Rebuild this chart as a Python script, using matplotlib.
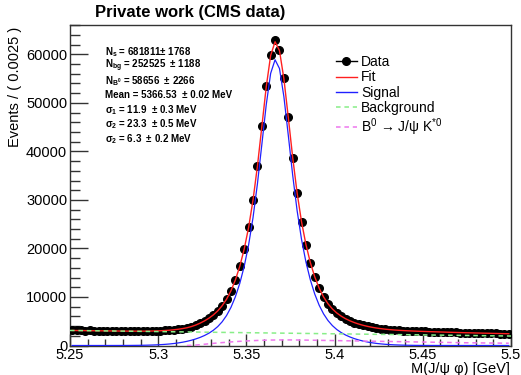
import numpy as np
import matplotlib
matplotlib.use('Agg')
import matplotlib.pyplot as plt
from matplotlib.lines import Line2D
from matplotlib.ticker import MultipleLocator, FuncFormatter

plt.rcParams['font.family'] = ['Liberation Sans', 'DejaVu Sans']
plt.rcParams['mathtext.fontset'] = 'custom'
plt.rcParams['mathtext.rm'] = 'Liberation Sans'
plt.rcParams['mathtext.it'] = 'Liberation Sans:italic'
plt.rcParams['mathtext.bf'] = 'Liberation Sans:bold'

# 100 bins of 0.0025 GeV from 5.25 to 5.5
x_lo, x_hi, nbins = 5.25, 5.5, 100
bin_w = (x_hi - x_lo) / nbins
mass = x_lo + bin_w * (np.arange(nbins) + 0.5)

data = [3180, 3120, 3150, 3090, 3110, 3060, 3080, 3040, 3050, 3010,
        3030, 2990, 3000, 2980, 2990, 2960, 2990, 2980, 3010, 3020,
        3070, 3100, 3180, 3250, 3370, 3500, 3680, 3900, 4230, 4620,
        5090, 5640, 6330, 7150, 8230, 9580, 11300, 13560, 16380, 19900,
        24400, 30050, 37050, 45200, 53400, 59900, 62900, 60950, 55050, 47000,
        38650, 31400, 25450, 20780, 17050, 14120, 11790, 10000, 8610, 7520,
        6700, 6050, 5500, 5090, 4710, 4400, 4160, 3930, 3760, 3590,
        3480, 3360, 3280, 3190, 3140, 3080, 3040, 2990, 2960, 2920,
        2890, 2860, 2830, 2800, 2770, 2750, 2720, 2690, 2660, 2640,
        2620, 2590, 2570, 2550, 2530, 2510, 2490, 2460, 2440, 2420]

fit = [3100, 3088, 3077, 3065, 3054, 3042, 3030, 3020, 3009, 2999,
       2989, 2979, 2972, 2965, 2961, 2959, 2961, 2970, 2984, 3007,
       3041, 3088, 3153, 3238, 3347, 3484, 3655, 3895, 4210, 4602,
       5071, 5627, 6304, 7135, 8191, 9541, 11281, 13507, 16324, 19866,
       24327, 29969, 36970, 45098, 53310, 59780, 62588, 60783, 54986, 46992,
       38728, 31433, 25496, 20802, 17088, 14140, 11815, 10005, 8607, 7533,
       6699, 6042, 5512, 5077, 4715, 4410, 4152, 3935, 3752, 3599,
       3471, 3364, 3275, 3199, 3137, 3082, 3034, 2993, 2955, 2921,
       2889, 2858, 2829, 2800, 2773, 2745, 2717, 2691, 2664, 2638,
       2616, 2594, 2573, 2551, 2530, 2508, 2486, 2465, 2443, 2422]

signal = [0, 0, 0, 0, 0, 0, 0, 1, 2, 3,
          5, 7, 11, 16, 23, 33, 47, 67, 93, 127,
          173, 232, 308, 405, 525, 674, 857, 1078, 1345, 1668,
          2059, 2537, 3135, 3898, 4885, 6177, 7859, 10036, 12805, 16308,
          20731, 26345, 33317, 41427, 49620, 56082, 58887, 57083, 51293, 43310,
          35063, 27790, 21874, 17207, 13519, 10598, 8300, 6516, 5145, 4097,
          3290, 2660, 2156, 1748, 1412, 1134, 903, 712, 556, 429,
          328, 248, 185, 136, 100, 72, 51, 36, 25, 17,
          12, 8, 5, 3, 2, 1, 0, 0, 0, 0,
          0, 0, 0, 0, 0, 0, 0, 0, 0, 0]

b0_refl = [0, 0, 0, 0, 0, 0, 0, 0, 0, 0,
           0, 0, 0, 0, 0, 0, 0, 0, 0, 0,
           0, 0, 0, 0, 0, 0, 0, 30, 90, 170,
           260, 350, 440, 520, 600, 670, 740, 800, 860, 910,
           960, 1000, 1040, 1070, 1100, 1120, 1135, 1145, 1150, 1150,
           1145, 1135, 1125, 1110, 1095, 1080, 1065, 1050, 1035, 1020,
           1005, 990, 975, 960, 945, 930, 915, 900, 885, 870,
           855, 840, 825, 810, 795, 780, 765, 750, 735, 720,
           705, 690, 675, 660, 645, 630, 615, 600, 585, 570,
           560, 550, 540, 530, 520, 510, 500, 490, 480, 470]

bkg_mass = [5.25, 5.5]
bkg = [3100, 1952]

stats = [r"N$_{\mathbf{s}}$ = 681811± 1768",
         r"N$_{\mathbf{bg}}$ = 252525  ± 1188",
         r"N$_{\mathbf{B^{0}}}$ = 58656  ± 2266",
         "Mean = 5366.53  ± 0.02 MeV",
         r"σ$_{\mathbf{1}}$ = 11.9  ± 0.3 MeV",
         r"σ$_{\mathbf{2}}$ = 23.3  ± 0.5 MeV",
         r"σ$_{\mathbf{2}}$ = 6.3  ± 0.2 MeV"]

W, H = 521, 375
fig = plt.figure(figsize=(W / 100, H / 100), dpi=100)
ax = fig.add_axes([70 / W, 1 - 345.5 / H, 441 / W, 320.5 / H])

ax.errorbar(mass, data, xerr=bin_w / 2, yerr=np.sqrt(data), fmt='o', color='black',
            ms=5.5, elinewidth=1, capsize=0, zorder=3)
ax.plot(mass, fit, color='#ff2020', lw=1, zorder=4)
ax.plot(mass, signal, color='#2020ff', lw=0.9, zorder=4)
ax.plot(bkg_mass, bkg, color='#88ee88', lw=1.1, ls=(0, (3, 2.5)), zorder=4)
# the reflection curve is only drawn where it is non-zero
ax.plot(mass[26:], b0_refl[26:], color='#ee77ee', lw=1.1, ls=(0, (3, 2.5)), zorder=4)

ax.set_xlim(x_lo, x_hi)
ax.set_ylim(0, 66050)
ax.xaxis.set_major_locator(MultipleLocator(0.05))
ax.xaxis.set_minor_locator(MultipleLocator(0.01))
ax.yaxis.set_major_locator(MultipleLocator(10000))
ax.yaxis.set_minor_locator(MultipleLocator(2000))
fmt = FuncFormatter(lambda v, p: '%g' % round(v, 4))
ax.xaxis.set_major_formatter(fmt)
ax.yaxis.set_major_formatter(fmt)
ax.tick_params(axis='both', which='both', direction='in', top=False, right=False,
               labelsize=10.5, width=1, color='#333333')
ax.tick_params(axis='x', which='major', length=9, pad=1.5)
ax.tick_params(axis='x', which='minor', length=5)
ax.tick_params(axis='y', which='major', length=13, pad=2)
ax.tick_params(axis='y', which='minor', length=7)
for s in ax.spines.values():
    s.set_linewidth(1)
    s.set_color('#333333')

fig.text(95 / W, 1 - 13 / H, 'Private work (CMS data)', fontsize=12, fontweight='bold',
         ha='left', va='center')
fig.text(15 / W, 1 - 27 / H, 'Events / ( 0.0025 )', fontsize=10.5, rotation=90,
         ha='center', va='top')
fig.text(510 / W, 1 - 369 / H, 'M(J/ψ φ) [GeV]', fontsize=10.5, ha='right', va='center')

for k, line in enumerate(stats):
    fig.text(105 / W, 1 - (51.7 + 14.5 * k) / H, line, fontsize=7, fontweight='bold',
             ha='left', va='center')

handles = [Line2D([], [], color='black', marker='o', ms=5.5, lw=1),
           Line2D([], [], color='#ff2020', lw=1),
           Line2D([], [], color='#2020ff', lw=1),
           Line2D([], [], color='#88ee88', lw=1.1, ls=(0, (3, 2.5))),
           Line2D([], [], color='#ee77ee', lw=1.1, ls=(0, (3, 2.5)))]
labels = ['Data', 'Fit', 'Signal', 'Background', 'B$^{0}$ → J/ψ K$^{*0}$']
fig.legend(handles, labels, loc='upper left', bbox_to_anchor=(336 / W, 1 - 55 / H),
           frameon=False, fontsize=10, handlelength=1.5, handletextpad=0.3,
           labelspacing=0.1, borderpad=0, borderaxespad=0)

fig.savefig('out.png', dpi=100)
